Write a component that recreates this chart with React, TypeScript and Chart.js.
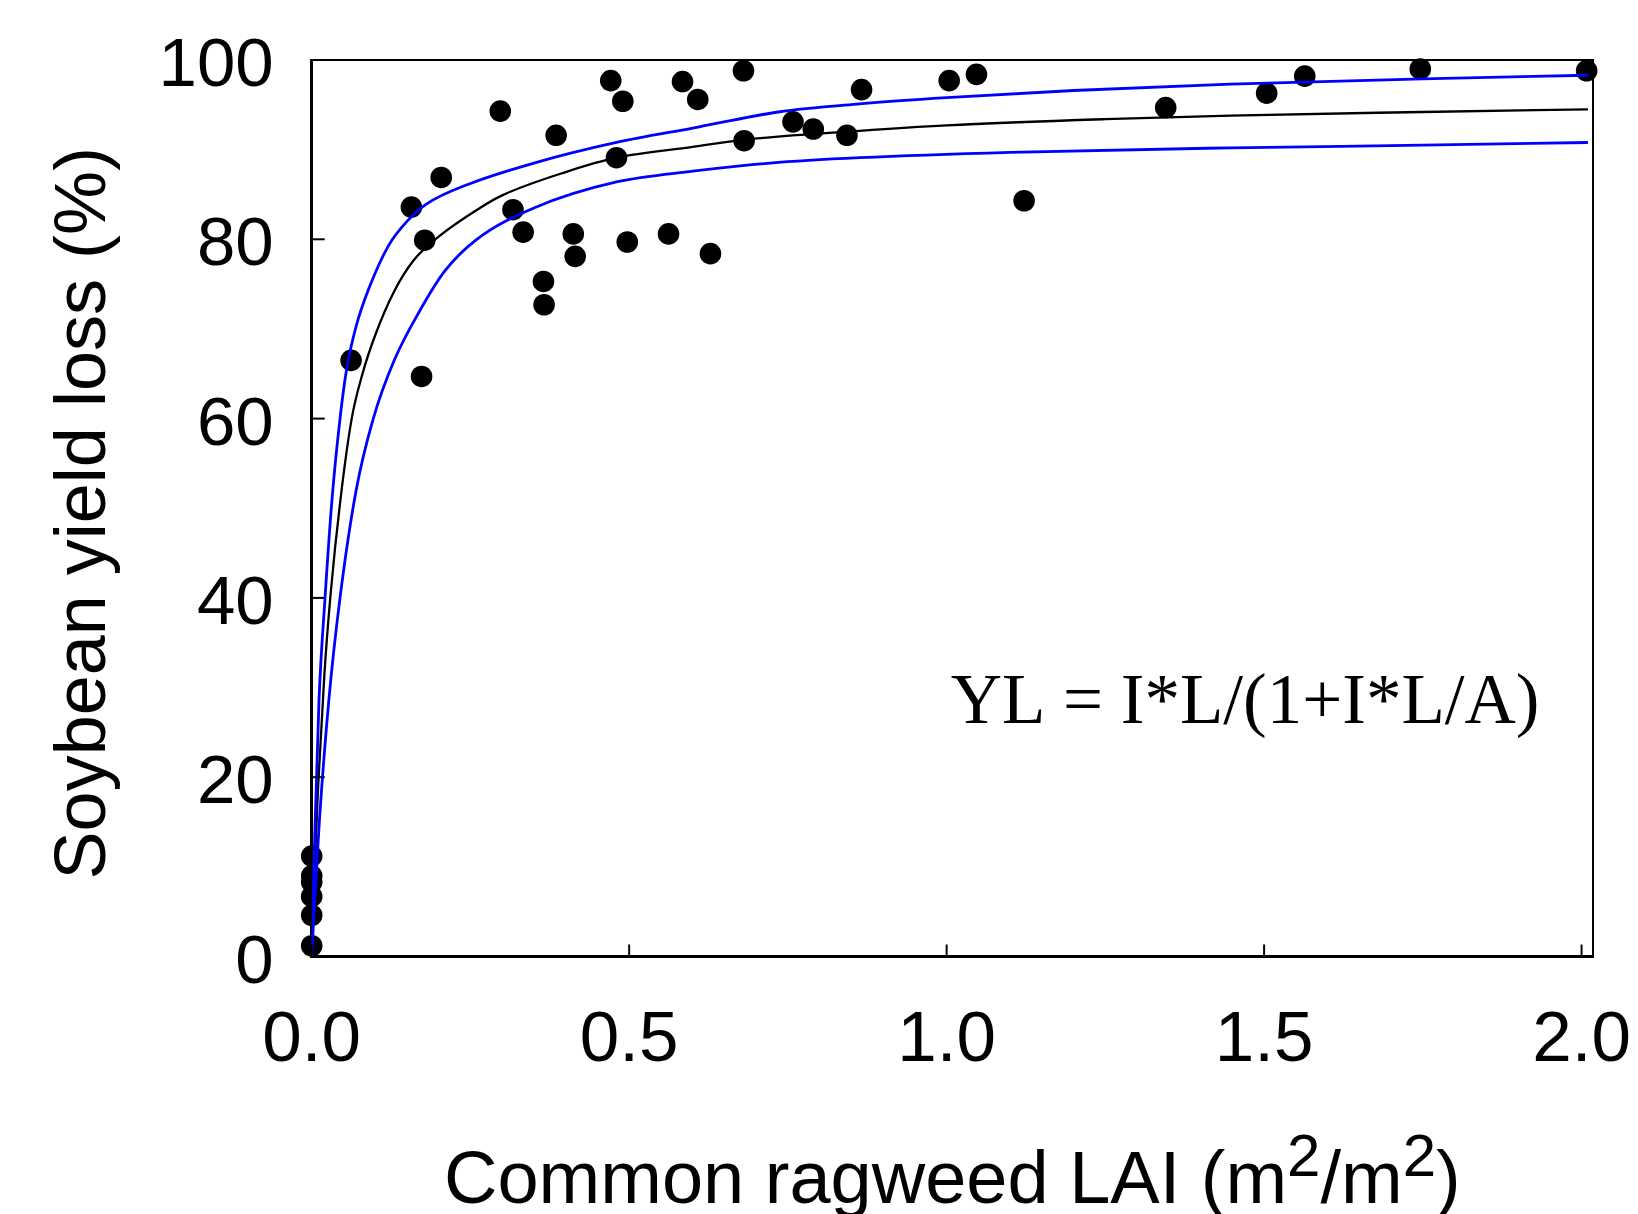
import React, { useEffect, useRef } from 'react';
import { Chart, registerables } from 'chart.js';

Chart.register(...registerables);

// Observed data: common ragweed LAI (m2/m2) vs soybean yield loss (%)
const laiObs = [
  0, 0, 0, 0, 0, 0,
  0.062, 0.157, 0.173, 0.178, 0.204, 0.297, 0.317, 0.333, 0.365, 0.366,
  0.385, 0.412, 0.415, 0.471, 0.48, 0.49, 0.497, 0.562, 0.584, 0.608,
  0.628, 0.68, 0.681, 0.758, 0.79, 0.843, 0.866, 1.004, 1.047, 1.122,
  1.345, 1.504, 1.564, 1.746, 2.008,
];
const yieldLossObs = [
  11.2, 9.0, 8.3, 6.7, 4.6, 1.2,
  66.5, 83.6, 64.7, 79.9, 86.9, 94.3, 83.3, 80.8, 75.3, 72.7,
  91.6, 80.6, 78.1, 97.7, 89.1, 95.4, 79.7, 80.6, 97.6, 95.6,
  78.4, 98.8, 91.0, 93.1, 92.3, 91.6, 96.7, 97.7, 98.4, 84.3,
  94.7, 96.3, 98.2, 99.0, 98.8,
];

// Fitted curve (black)
const fitLai = [0, 0.005, 0.01, 0.02, 0.03, 0.045, 0.063, 0.08, 0.1, 0.13, 0.16, 0.2, 0.265, 0.3, 0.4, 0.48, 0.6, 0.68, 0.863, 1.0, 1.25, 1.447, 1.75, 2.01];
const fitYL = [0, 10.4, 18.8, 31.5, 40.6, 50.8, 60.0, 65.0, 69.3, 74.2, 77.6, 80.3, 83.5, 84.9, 87.5, 89.1, 90.3, 91.1, 92.1, 92.7, 93.4, 93.8, 94.2, 94.5];

// Upper confidence band (blue)
const upperLai = [0, 0.005, 0.0115, 0.021, 0.032, 0.0446, 0.055, 0.07, 0.09, 0.121, 0.15, 0.18, 0.249, 0.35, 0.48, 0.6, 0.735, 0.863, 1.0, 1.2, 1.447, 1.75, 2.01];
const upperYL = [0, 14.0, 28.6, 40.0, 51.0, 60.0, 65.5, 70.3, 74.5, 79.3, 82.0, 83.9, 86.2, 88.5, 90.8, 92.4, 94.2, 95.1, 95.8, 96.6, 97.3, 97.9, 98.3];

// Lower confidence band (blue)
const lowerLai = [0, 0.005, 0.012, 0.027, 0.0446, 0.07, 0.097, 0.13, 0.17, 0.21, 0.26, 0.35, 0.48, 0.6, 0.722, 0.863, 1.1, 1.447, 1.75, 2.01];
const lowerYL = [0, 6.5, 15.0, 28.6, 40.0, 52.0, 60.0, 66.5, 72.0, 76.5, 80.0, 83.5, 86.4, 87.6, 88.5, 89.1, 89.7, 90.2, 90.5, 90.8];

const xTickValues = [0, 0.5, 1.0, 1.5, 2.0];
const yTickValues = [0, 20, 40, 60, 80, 100];

const yTitleText = 'Soybean yield loss (%)';
const xTitleParts = [
  { text: 'Common ragweed LAI (m', sup: false },
  { text: '2', sup: true },
  { text: '/m', sup: false },
  { text: '2', sup: true },
  { text: ')', sup: false },
];
const equationText = 'YL = I*L/(1+I*L/A)';
const equationAnchor = { x: 1.47, y: 26.1 };

const SANS = '"Liberation Sans", Arial, Helvetica, sans-serif';
const SERIF = '"Liberation Serif", "Times New Roman", Times, serif';

const W = 1638;
const H = 1214;

const zeroPadding = (s: any) => {
  s.paddingTop = 0;
  s.paddingBottom = 0;
  s.paddingLeft = 0;
  s.paddingRight = 0;
};

export default function App() {
  const canvasRef = useRef<HTMLCanvasElement | null>(null);

  useEffect(() => {
    const canvas = canvasRef.current;
    if (!canvas) return;
    const toPts = (xs: number[], ys: number[]) => xs.map((x, i) => ({ x, y: ys[i] }));

    const decor = {
      id: 'decor',
      afterDraw(chart: any) {
        const ctx = chart.ctx as CanvasRenderingContext2D;
        const area = chart.chartArea;
        const xs = chart.scales.x;
        const ys = chart.scales.y;
        ctx.save();
        ctx.strokeStyle = '#000';
        // top and right frame
        ctx.lineWidth = 2;
        ctx.beginPath();
        ctx.moveTo(area.left, area.top);
        ctx.lineTo(area.right, area.top);
        ctx.lineTo(area.right, area.bottom);
        ctx.stroke();
        // inward ticks
        ctx.lineWidth = 2;
        yTickValues.forEach((v) => {
          const py = ys.getPixelForValue(v);
          ctx.beginPath();
          ctx.moveTo(area.left, py);
          ctx.lineTo(area.left + 13, py);
          ctx.stroke();
        });
        xTickValues.forEach((v) => {
          const px = xs.getPixelForValue(v);
          ctx.beginPath();
          ctx.moveTo(px, area.bottom);
          ctx.lineTo(px, area.bottom - 12);
          ctx.stroke();
        });
        // y title
        ctx.fillStyle = '#000';
        ctx.save();
        ctx.translate(105, (area.top + area.bottom) / 2 + 5);
        ctx.rotate(-Math.PI / 2);
        ctx.font = `72px ${SANS}`;
        ctx.textAlign = 'center';
        ctx.textBaseline = 'alphabetic';
        ctx.fillText(yTitleText, 0, 0);
        ctx.restore();
        // x title with superscripts
        const mainFont = `74px ${SANS}`;
        const supFont = `60px ${SANS}`;
        let total = 0;
        const widths = xTitleParts.map((p) => {
          ctx.font = p.sup ? supFont : mainFont;
          const w = ctx.measureText(p.text).width;
          total += w;
          return w;
        });
        let cx = (area.left + area.right) / 2 - total / 2;
        const baseY = 1203;
        ctx.textAlign = 'left';
        ctx.textBaseline = 'alphabetic';
        xTitleParts.forEach((p, i) => {
          ctx.font = p.sup ? supFont : mainFont;
          ctx.fillText(p.text, cx, p.sup ? baseY - 27 : baseY);
          cx += widths[i];
        });
        // equation
        ctx.font = `71px ${SERIF}`;
        ctx.textAlign = 'center';
        ctx.fillText(equationText, xs.getPixelForValue(equationAnchor.x), ys.getPixelForValue(equationAnchor.y));
        ctx.restore();
      },
    };

    const chart = new Chart(canvas, {
      type: 'scatter',
      data: {
        datasets: [
          {
            label: 'Upper',
            data: toPts(upperLai, upperYL),
            showLine: true,
            borderColor: '#0000ff',
            backgroundColor: '#0000ff',
            borderWidth: 2.8,
            pointRadius: 0,
            cubicInterpolationMode: 'monotone',
            order: 1,
          },
          {
            label: 'Lower',
            data: toPts(lowerLai, lowerYL),
            showLine: true,
            borderColor: '#0000ff',
            backgroundColor: '#0000ff',
            borderWidth: 2.8,
            pointRadius: 0,
            cubicInterpolationMode: 'monotone',
            order: 1,
          },
          {
            label: 'Fit',
            data: toPts(fitLai, fitYL),
            showLine: true,
            borderColor: '#000000',
            backgroundColor: '#000000',
            borderWidth: 2.3,
            pointRadius: 0,
            cubicInterpolationMode: 'monotone',
            order: 2,
          },
          {
            label: 'Observed',
            data: toPts(laiObs, yieldLossObs),
            showLine: false,
            pointRadius: 10.8,
            pointBorderWidth: 0,
            backgroundColor: '#000000',
            borderColor: '#000000',
            clip: false,
            order: 3,
          } as any,
        ],
      },
      options: {
        responsive: false,
        maintainAspectRatio: false,
        animation: false,
        devicePixelRatio: 1,
        events: [],
        layout: { padding: { top: 60, right: 45, left: 0, bottom: 0 } },
        plugins: {
          legend: { display: false },
          tooltip: { enabled: false },
          title: { display: false },
        },
        scales: {
          x: {
            type: 'linear',
            min: 0,
            max: 2.018,
            grid: { display: false, drawTicks: false },
            border: { display: true, color: '#000', width: 3 },
            ticks: {
              stepSize: 0.5,
              includeBounds: false,
              padding: 42,
              color: '#000',
              maxRotation: 0,
              autoSkip: false,
              font: { family: SANS, size: 71 },
              callback: (v: any) => Number(v).toFixed(1),
            },
            afterFit: (s: any) => {
              s.height = H - 956.5;
              zeroPadding(s);
            },
          },
          y: {
            type: 'linear',
            min: 0,
            max: 100,
            grid: { display: false, drawTicks: false },
            border: { display: true, color: '#000', width: 3 },
            ticks: {
              stepSize: 20,
              padding: 38,
              labelOffset: 7,
              color: '#000',
              font: { family: SANS, size: 69 },
              callback: (v: any) => String(v),
            },
            afterFit: (s: any) => {
              s.width = 311.7;
              zeroPadding(s);
            },
          },
        },
      } as any,
      plugins: [decor],
    });

    return () => chart.destroy();
  }, []);

  return (
    <div style={{ position: 'absolute', left: 0, top: 0, width: W, height: H, background: '#fff' }}>
      <canvas ref={canvasRef} width={W} height={H} style={{ display: 'block', width: W, height: H }} />
    </div>
  );
}
